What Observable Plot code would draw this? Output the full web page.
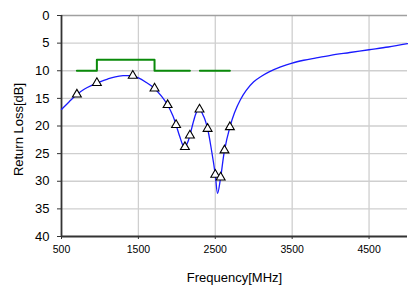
<!DOCTYPE html>
<html>
<head>
<meta charset="utf-8">
<script src="https://cdn.jsdelivr.net/npm/d3@7"></script>
<script src="https://cdn.jsdelivr.net/npm/@observablehq/plot@0.6"></script>
<style>
  html, body { margin: 0; padding: 0; background: #fff; }
</style>
</head>
<body>
<div id="chart"></div>
<script>
// Measured return loss curve
const curveFreq = [500, 600, 700, 800, 900, 1000, 1100, 1200, 1300, 1400, 1500, 1600, 1710, 1800, 1880, 1950, 1990, 2040, 2080, 2105, 2140, 2170, 2220, 2260, 2295, 2350, 2400, 2450, 2500, 2530, 2570, 2620, 2690, 2750, 2825, 2900, 3000, 3100, 3200, 3350, 3500, 3650, 3800, 4000, 4250, 4500, 4750, 5000];
const curveRL   = [17.0, 15.6, 14.3, 13.3, 12.6, 12.0, 11.5, 11.1, 10.9, 10.9, 11.3, 12.1, 13.2, 14.6, 16.2, 18.2, 19.8, 22.0, 23.5, 23.8, 23.0, 21.7, 19.0, 17.4, 17.0, 18.3, 20.5, 24.3, 28.8, 32.2, 29.3, 24.4, 20.2, 17.6, 15.3, 13.6, 12.0, 11.0, 10.2, 9.3, 8.6, 8.1, 7.7, 7.2, 6.7, 6.2, 5.7, 5.1];

// Band-edge markers (triangles)
const markerFreq = [700, 960, 1427, 1710, 1880, 1990, 2105, 2170, 2295, 2400, 2500, 2570, 2620, 2690];
const markerRL   = [14.3, 12.2, 10.9, 13.2, 16.2, 19.8, 23.8, 21.7, 17.0, 20.5, 28.8, 29.3, 24.4, 20.2];

// Specification mask (green)
const mask1Freq = [700, 960, 960, 1710, 1710, 2170];
const mask1RL   = [10, 10, 8, 8, 10, 10];
const mask2Freq = [2300, 2690];
const mask2RL   = [10, 10];

const xTicks = [500, 1500, 2500, 3500, 4500];
const yTicks = [0, 5, 10, 15, 20, 25, 30, 35, 40];
const xLabel = "Frequency[MHz]";
const yLabel = "Return Loss[dB]";

const curve = curveFreq.map((f, i) => ({f, v: curveRL[i]}));
const markers = markerFreq.map((f, i) => ({f, v: markerRL[i]}));
const mask1 = mask1Freq.map((f, i) => ({f, v: mask1RL[i]}));
const mask2 = mask2Freq.map((f, i) => ({f, v: mask2RL[i]}));

const chart = Plot.plot({
  width: 408,
  height: 291,
  marginLeft: 61,
  marginRight: 1,
  marginTop: 15,
  marginBottom: 55,
  style: {fontFamily: "'Liberation Sans', Arial, sans-serif", background: "#fff", color: "#000"},
  x: {domain: [500, 5000]},
  y: {domain: [0, 40], reverse: true},
  marks: [
    Plot.gridX(xTicks.slice(1), {stroke: "#cfcfcf", strokeOpacity: 1, strokeWidth: 1.3}),
    Plot.gridY(yTicks.slice(1, -1), {stroke: "#cfcfcf", strokeOpacity: 1, strokeWidth: 1.3}),
    Plot.ruleY([0], {stroke: "#a0a0a0", strokeWidth: 1.6}),
    Plot.axisX(xTicks, {tickSize: 3, tickPadding: 6, fontSize: 10.5, tickFormat: d => String(d), label: null, stroke: "#333"}),
    Plot.axisY(yTicks, {tickSize: 4, tickPadding: 8, fontSize: 13, tickFormat: d => String(d), label: null, stroke: "#333"}),
    Plot.ruleX([500], {stroke: "#333", strokeWidth: 1.8}),
    Plot.ruleY([40], {stroke: "#333", strokeWidth: 1.8}),
    Plot.line(mask1, {x: "f", y: "v", stroke: "#0a8a0a", strokeWidth: 2}),
    Plot.line(mask2, {x: "f", y: "v", stroke: "#0a8a0a", strokeWidth: 2}),
    Plot.line(curve, {x: "f", y: "v", stroke: "#1a1aff", strokeWidth: 1.3, curve: "catmull-rom"}),
    Plot.dot(markers, {x: "f", y: "v", symbol: "triangle", r: 3.3, stroke: "#000", strokeWidth: 1.1, fill: "#fff"}),
    Plot.text([xLabel], {frameAnchor: "bottom", dy: 45, fontSize: 13, fill: "#000"}),
    Plot.text([yLabel], {frameAnchor: "left", textAnchor: "middle", dx: -43, dy: 3.5, rotate: -90, fontSize: 13, fill: "#000"})
  ]
});
document.getElementById("chart").appendChild(chart);
</script>
</body>
</html>
